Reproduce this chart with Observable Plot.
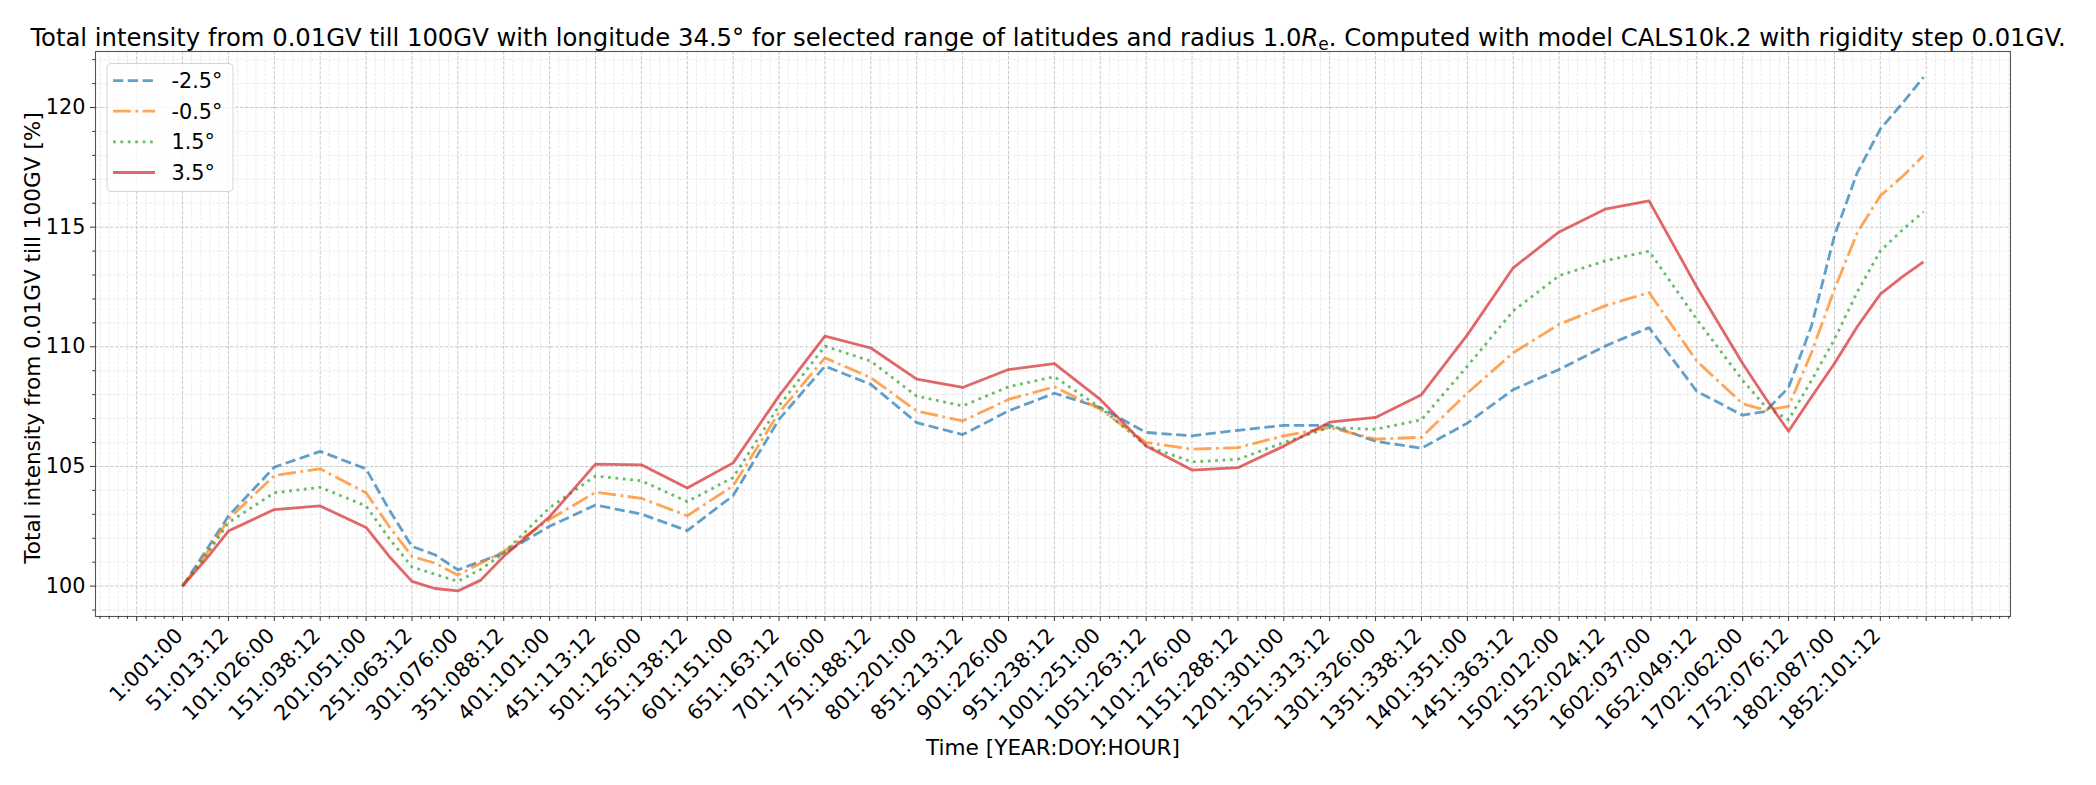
<!DOCTYPE html>
<html>
<head>
<meta charset="utf-8">
<script src="https://cdn.jsdelivr.net/npm/d3@7"></script>
<script src="https://cdn.jsdelivr.net/npm/@observablehq/plot@0.6"></script>
<style>
  html, body { margin: 0; padding: 0; background: #fff; }
  #wrap { position: relative; width: 2096px; height: 785px; font-family: "DejaVu Sans", sans-serif; }
  #title { position: absolute; left: 0; width: 2096px; top: 26px; text-align: center; box-sizing: border-box;
           font-size: 24.3px; line-height: 1; color: #000; white-space: nowrap; z-index: 2; }
  #title sub { font-size: 70%; vertical-align: -0.25em; line-height: 0; }
</style>
</head>
<body>
<div id="wrap">
  <div id="title">Total intensity from 0.01GV till 100GV with longitude 34.5° for selected range of latitudes and radius 1.0<i>R</i><sub>e</sub>. Computed with model CALS10k.2 with rigidity step 0.01GV.</div>
</div>
<script>
// ---- data (sample index along time axis) ----
const sampleIndex = [0, 25, 50, 100, 150, 200, 225, 250, 275, 300, 325, 350, 400, 450, 500, 550, 600, 650, 700, 750, 800, 850, 900, 950, 1000, 1050, 1100, 1150, 1200, 1250, 1300, 1350, 1400, 1450, 1500, 1550, 1598, 1650, 1700, 1725, 1750, 1775, 1800, 1825, 1850, 1875, 1897];

const latMinus25 = [100, 101.45, 102.93, 104.97, 105.63, 104.9, 103.2, 101.66, 101.31, 100.68, 101.03, 101.38, 102.5, 103.39, 103.01, 102.32, 103.78, 106.97, 109.19, 108.43, 106.83, 106.33, 107.32, 108.06, 107.46, 106.42, 106.28, 106.51, 106.72, 106.72, 106.05, 105.76, 106.81, 108.21, 109.05, 110.03, 110.8, 108.14, 107.14, 107.3, 108.3, 110.87, 114.64, 117.29, 119.1, 120.22, 121.27];
const latMinus05 = [100, 101.3, 102.8, 104.62, 104.9, 103.9, 102.5, 101.24, 100.96, 100.46, 100.96, 101.45, 102.79, 103.92, 103.67, 102.94, 104.19, 107.25, 109.54, 108.71, 107.32, 106.9, 107.8, 108.33, 107.39, 106.0, 105.72, 105.79, 106.28, 106.63, 106.14, 106.22, 108.07, 109.75, 110.94, 111.71, 112.27, 109.4, 107.62, 107.35, 107.51, 109.75, 112.4, 114.78, 116.31, 117.15, 117.99];
const latPlus15 = [100, 101.25, 102.65, 103.9, 104.13, 103.35, 102.0, 100.8, 100.5, 100.2, 100.7, 101.38, 103.28, 104.6, 104.4, 103.53, 104.54, 107.53, 110.03, 109.4, 107.94, 107.53, 108.33, 108.75, 107.46, 105.86, 105.19, 105.3, 106.0, 106.63, 106.55, 106.95, 109.19, 111.5, 112.97, 113.59, 114.0, 111.15, 108.6, 107.5, 106.95, 108.6, 110.31, 112.3, 114.0, 114.92, 115.64];
const latPlus35 = [100, 101.1, 102.3, 103.2, 103.35, 102.45, 101.25, 100.2, 99.9, 99.8, 100.25, 101.25, 102.9, 105.1, 105.07, 104.1, 105.15, 107.95, 110.45, 109.95, 108.65, 108.3, 109.05, 109.3, 107.8, 105.85, 104.85, 104.95, 105.85, 106.85, 107.05, 108.0, 110.5, 113.3, 114.8, 115.75, 116.1, 112.5, 109.3, 107.85, 106.47, 107.9, 109.3, 110.85, 112.2, 112.95, 113.55];

const seriesNames = ["-2.5°", "-0.5°", "1.5°", "3.5°"];
const seriesColors = ["#1f77b4", "#ff7f0e", "#2ca02c", "#d62728"];

const tickLabels = ["1:001:00","51:013:12","101:026:00","151:038:12","201:051:00","251:063:12","301:076:00","351:088:12","401:101:00","451:113:12","501:126:00","551:138:12","601:151:00","651:163:12","701:176:00","751:188:12","801:201:00","851:213:12","901:226:00","951:238:12","1001:251:00","1051:263:12","1101:276:00","1151:288:12","1201:301:00","1251:313:12","1301:326:00","1351:338:12","1401:351:00","1451:363:12","1502:012:00","1552:024:12","1602:037:00","1652:049:12","1702:062:00","1752:076:12","1802:087:00","1852:101:12"];
const tickPositions = tickLabels.map((_, i) => i * 50);
const yTicks = [100, 105, 110, 115, 120];

const yLabel = "Total intensity from 0.01GV till 100GV [%]";
const xLabel = "Time [YEAR:DOY:HOUR]";

// ---- build table ----
const seriesValues = [latMinus25, latMinus05, latPlus15, latPlus35];
const dashes = ["10.3,4.5", "17.9,4.5,2.8,4.5", "2.8,4.6", null];

const table = seriesNames.map((name, s) => sampleIndex.map((x, i) => ({x, v: seriesValues[s][i], name})));

const majorX = d3.range(-50, 1992, 50);
const minorX = d3.range(-90, 1992, 10).filter(d => d % 50 !== 0);
const minorY = d3.range(99, 123, 1).filter(d => d % 5 !== 0);

const FS = 20.8;
const LFS = 21.6;

const chart = Plot.plot({
  width: 2096,
  height: 785,
  marginLeft: 95,
  marginRight: 86,
  marginTop: 51,
  marginBottom: 169,
  style: {fontFamily: "'DejaVu Sans', sans-serif", fontSize: FS + "px", background: "transparent", overflow: "visible", color: "#000"},
  x: {domain: [-94.85, 1991.85], axis: null},
  y: {domain: [98.73, 122.34], axis: null},
  marks: [
    Plot.gridX(minorX, {stroke: "#e6e6e6", strokeOpacity: 1, strokeWidth: 0.8, strokeDasharray: "3,1.5"}),
    Plot.gridY(minorY, {stroke: "#e6e6e6", strokeOpacity: 1, strokeWidth: 0.8, strokeDasharray: "3,1.5"}),
    Plot.gridX(majorX, {stroke: "#c4c4c4", strokeOpacity: 1, strokeWidth: 0.9, strokeDasharray: "3.5,1.5"}),
    Plot.gridY(yTicks, {stroke: "#c4c4c4", strokeOpacity: 1, strokeWidth: 0.9, strokeDasharray: "3.5,1.5"}),
    ...table.map((rows, s) => Plot.line(rows, {
      x: "x", y: "v",
      stroke: seriesColors[s], strokeOpacity: 0.7, strokeWidth: 2.8,
      strokeDasharray: dashes[s], strokeLinecap: "butt", strokeLinejoin: "round"
    })),
    Plot.frame({stroke: "#555", strokeWidth: 1.1}),
    Plot.axisX(majorX, {anchor: "bottom", tickSize: 5, tickFormat: () => "", stroke: "#333", label: null}),
    Plot.axisX(minorX, {anchor: "bottom", tickSize: 2.8, tickFormat: () => "", stroke: "#333", label: null}),
    Plot.axisY(yTicks, {anchor: "left", tickSize: 5, tickPadding: 5, fontSize: FS, stroke: "#333", label: null, tickFormat: d => String(d)}),
    Plot.axisY(minorY, {anchor: "left", tickSize: 2.8, tickFormat: () => "", stroke: "#333", label: null}),
    Plot.text(tickPositions, {
      x: d => d, text: (d, i) => tickLabels[i],
      frameAnchor: "bottom", textAnchor: "end", lineAnchor: "top",
      rotate: -45, dx: -9, dy: 10, fontSize: FS, fill: "#000"
    }),
    Plot.text([yLabel], {text: d => d, frameAnchor: "left", textAnchor: "middle", lineAnchor: "middle", rotate: -90, dx: -62, dy: 4, fontSize: LFS, fill: "#000"}),
    Plot.text([xLabel], {text: d => d, frameAnchor: "bottom", textAnchor: "middle", lineAnchor: "middle", dy: 132, fontSize: LFS, fill: "#000"})
  ]
});

document.getElementById("wrap").appendChild(chart);

// ---- legend (inside axes, upper left) ----
const svg = d3.select(chart);
const lg = svg.append("g").attr("font-family", "'DejaVu Sans', sans-serif").attr("font-size", FS).attr("text-anchor", "start");
lg.append("rect").attr("x", 107).attr("y", 63.5).attr("width", 126).attr("height", 128).attr("rx", 4)
  .attr("fill", "#fff").attr("fill-opacity", 0.8).attr("stroke", "#d6d6d6").attr("stroke-width", 1);
const rowY = [80.7, 111.2, 141.8, 172.5];
seriesNames.forEach((name, s) => {
  lg.append("line").attr("x1", 113).attr("x2", 155).attr("y1", rowY[s]).attr("y2", rowY[s])
    .attr("stroke", seriesColors[s]).attr("stroke-opacity", 0.7).attr("stroke-width", 2.8)
    .attr("stroke-dasharray", dashes[s]);
  lg.append("text").attr("x", 171.5).attr("y", rowY[s]).attr("dy", "0.36em").attr("text-anchor", "start").text(name);
});
</script>
</body>
</html>
